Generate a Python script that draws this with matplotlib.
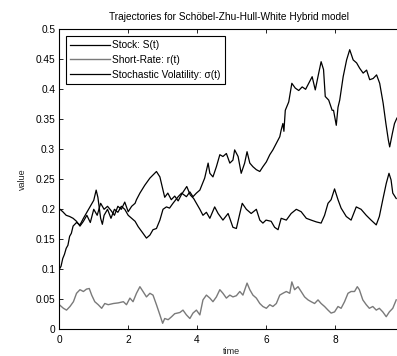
import matplotlib
matplotlib.use("Agg")
import matplotlib.pyplot as plt

plt.rcParams['font.family'] = ['Liberation Sans', 'DejaVu Sans']

# ---- data ----
t_stock = [0.0, 0.05, 0.1, 0.15, 0.2, 0.25, 0.3, 0.35, 0.4, 0.5, 0.6, 0.7, 0.8, 0.9, 1.0,
           1.07, 1.12, 1.2, 1.25, 1.3, 1.4, 1.5, 1.6, 1.7, 1.8, 1.9, 2.0, 2.1, 2.2,
           2.29, 2.43, 2.53, 2.63, 2.72, 2.82, 2.92, 3.01, 3.11, 3.2, 3.3, 3.45, 3.55,
           3.69, 3.79, 3.88, 3.98, 4.08, 4.22, 4.32, 4.37, 4.46, 4.56, 4.66, 4.75, 4.85,
           4.95, 5.04, 5.09, 5.19, 5.28, 5.38, 5.45, 5.53, 5.62, 5.72, 5.82, 5.91, 6.01,
           6.11, 6.2, 6.3, 6.4, 6.44, 6.49, 6.52, 6.56, 6.66, 6.75, 6.85, 6.95, 7.05,
           7.15, 7.24, 7.34, 7.43, 7.53, 7.6, 7.67, 7.72, 7.82, 7.92, 7.96, 8.04, 8.09,
           8.14, 8.24, 8.34, 8.43, 8.53, 8.63, 8.72, 8.82, 8.92, 9.01, 9.11, 9.21, 9.3,
           9.4, 9.48, 9.55, 9.59, 9.67, 9.73, 9.8]
stock = [0.100, 0.105, 0.118, 0.125, 0.135, 0.140, 0.155, 0.160, 0.172, 0.178, 0.174, 0.185,
         0.195, 0.205, 0.215, 0.232, 0.220, 0.185, 0.175, 0.190, 0.200, 0.185, 0.200, 0.195,
         0.205, 0.200, 0.190, 0.185, 0.180, 0.171, 0.160, 0.152, 0.157, 0.166, 0.168, 0.182,
         0.200, 0.204, 0.202, 0.210, 0.221, 0.227, 0.221, 0.229, 0.221, 0.227, 0.232, 0.252,
         0.277, 0.260, 0.254, 0.271, 0.291, 0.288, 0.293, 0.277, 0.282, 0.299, 0.288, 0.260,
         0.277, 0.296, 0.277, 0.271, 0.266, 0.263, 0.271, 0.279, 0.291, 0.299, 0.310, 0.321,
         0.332, 0.343, 0.330, 0.365, 0.379, 0.410, 0.402, 0.398, 0.404, 0.400, 0.410, 0.421,
         0.399, 0.427, 0.446, 0.433, 0.388, 0.382, 0.365, 0.365, 0.340, 0.370, 0.382, 0.421,
         0.449, 0.466, 0.449, 0.444, 0.435, 0.427, 0.432, 0.416, 0.418, 0.424, 0.410, 0.377,
         0.343, 0.316, 0.304, 0.327, 0.343, 0.352]

t_rate = [0.0, 0.12, 0.21, 0.31, 0.41, 0.5, 0.6, 0.7, 0.79, 0.87, 0.94, 1.03, 1.13, 1.23,
          1.32, 1.42, 1.57, 1.71, 1.86, 1.95, 2.05, 2.14, 2.24, 2.34, 2.43, 2.53, 2.63,
          2.72, 2.82, 2.92, 3.0, 3.06, 3.16, 3.26, 3.35, 3.5, 3.59, 3.69, 3.79, 3.88,
          3.98, 4.08, 4.17, 4.27, 4.37, 4.46, 4.56, 4.66, 4.75, 4.85, 4.95, 5.04, 5.14,
          5.24, 5.33, 5.45, 5.53, 5.62, 5.72, 5.82, 5.91, 6.01, 6.11, 6.2, 6.3, 6.4, 6.49,
          6.59, 6.69, 6.75, 6.83, 6.93, 7.02, 7.12, 7.22, 7.31, 7.41, 7.51, 7.6, 7.7, 7.8,
          7.89, 7.99, 8.09, 8.18, 8.28, 8.38, 8.47, 8.57, 8.65, 8.71, 8.81, 8.91, 9.0, 9.1,
          9.2, 9.29, 9.39, 9.49, 9.58, 9.68, 9.78]
rate = [0.041, 0.035, 0.032, 0.038, 0.046, 0.060, 0.066, 0.063, 0.067, 0.068, 0.057, 0.046,
        0.041, 0.035, 0.043, 0.041, 0.043, 0.044, 0.046, 0.041, 0.052, 0.046, 0.060, 0.071,
        0.063, 0.054, 0.060, 0.057, 0.041, 0.024, 0.010, 0.018, 0.016, 0.021, 0.026, 0.028,
        0.032, 0.024, 0.018, 0.027, 0.032, 0.024, 0.049, 0.057, 0.052, 0.046, 0.054, 0.066,
        0.060, 0.052, 0.057, 0.054, 0.056, 0.063, 0.057, 0.077, 0.066, 0.057, 0.052, 0.043,
        0.038, 0.035, 0.041, 0.038, 0.043, 0.057, 0.060, 0.063, 0.060, 0.079, 0.066, 0.071,
        0.063, 0.054, 0.049, 0.046, 0.043, 0.049, 0.043, 0.038, 0.032, 0.027, 0.029, 0.038,
        0.035, 0.046, 0.060, 0.063, 0.063, 0.071, 0.066, 0.049, 0.041, 0.035, 0.038, 0.032,
        0.035, 0.029, 0.021, 0.029, 0.035, 0.049]

t_vol = [0.0, 0.1, 0.2, 0.3, 0.4, 0.5, 0.6, 0.7, 0.8, 0.9, 1.0, 1.1, 1.2, 1.3, 1.4, 1.5,
         1.6, 1.7, 1.8, 1.9, 2.0, 2.1, 2.2, 2.24, 2.34, 2.48, 2.63, 2.82, 2.92, 3.01, 3.06,
         3.15, 3.25, 3.35, 3.45, 3.55, 3.7, 3.8, 3.9, 3.98, 4.08, 4.17, 4.27, 4.37, 4.51,
         4.61, 4.75, 4.9, 5.04, 5.14, 5.24, 5.31, 5.43, 5.57, 5.72, 5.82, 5.91, 6.0, 6.15,
         6.25, 6.35, 6.44, 6.59, 6.73, 6.88, 7.02, 7.17, 7.31, 7.46, 7.6, 7.7, 7.8, 7.89,
         7.99, 8.09, 8.18, 8.33, 8.47, 8.62, 8.76, 8.91, 9.05, 9.2, 9.29, 9.39, 9.49, 9.57,
         9.63, 9.68, 9.78]
vol = [0.201, 0.196, 0.190, 0.188, 0.185, 0.180, 0.172, 0.180, 0.190, 0.178, 0.200, 0.190,
       0.210, 0.200, 0.205, 0.198, 0.190, 0.205, 0.200, 0.212, 0.196, 0.205, 0.210, 0.216,
       0.227, 0.240, 0.252, 0.263, 0.254, 0.232, 0.220, 0.227, 0.216, 0.222, 0.214, 0.225,
       0.238, 0.224, 0.218, 0.210, 0.200, 0.190, 0.195, 0.185, 0.204, 0.193, 0.182, 0.193,
       0.170, 0.168, 0.193, 0.210, 0.200, 0.193, 0.200, 0.182, 0.177, 0.182, 0.180, 0.170,
       0.166, 0.185, 0.182, 0.193, 0.200, 0.196, 0.185, 0.182, 0.179, 0.177, 0.190, 0.210,
       0.216, 0.234, 0.216, 0.202, 0.188, 0.182, 0.204, 0.200, 0.190, 0.182, 0.174, 0.188,
       0.216, 0.243, 0.260, 0.249, 0.227, 0.218]

labels = ['Stock: S(t)', 'Short-Rate: r(t)', 'Stochastic Volatility: \u03c3(t)']
title = 'Trajectories for Sch\u00f6bel-Zhu-Hull-White Hybrid model'
xticks = [0, 2, 4, 6, 8, 10]
xtick_labels = ['0', '2', '4', '6', '8', '']
yticks = [0, 0.05, 0.1, 0.15, 0.2, 0.25, 0.3, 0.35, 0.4, 0.45, 0.5]
ytick_labels = ['0', '0.05', '0.1', '0.15', '0.2', '0.25', '0.3', '0.35', '0.4', '0.45', '0.5']

W, H = 397, 356
fig = plt.figure(figsize=(W / 100, H / 100), dpi=100)
ax = fig.add_axes([59.3 / W, (H - 329.3) / H, 344.5 / W, 300 / H])

ax.plot(t_stock, stock, color='black', lw=0.9, label=labels[0])
ax.plot(t_rate, rate, color='#7a7a7a', lw=1.0, label=labels[1])
ax.plot(t_vol, vol, color='black', lw=0.9, label=labels[2])

ax.set_xlim(0, 10)
ax.set_ylim(0, 0.5)
ax.set_xticks(xticks)
ax.set_xticklabels(xtick_labels)
ax.set_yticks(yticks)
ax.set_yticklabels(ytick_labels)
ax.tick_params(direction='in', length=3, width=0.6, labelsize=7.3,
               top=True, right=True, pad=3)
ax.tick_params(axis='x', pad=4)
for s in ax.spines.values():
    s.set_linewidth(0.8)

ax.set_xlabel('time', fontsize=6.5, color='#222222')
ax.set_ylabel('value', fontsize=6.5, color='#222222')
ax.xaxis.set_label_coords(0.5, -0.058)
ax.yaxis.set_label_coords(-0.094, 0.5)

fig.text(229 / W, 1 - 16.7 / H, title, ha='center', va='center', fontsize=7.3)

leg = ax.legend(loc='upper left', bbox_to_anchor=(0.0186, 0.978), borderaxespad=0,
                fontsize=7.3, frameon=True, fancybox=False, handlelength=3.9,
                handletextpad=0.2, labelspacing=0.45, borderpad=0.45)
leg.get_frame().set_edgecolor('black')
leg.get_frame().set_linewidth(0.8)
leg.get_frame().set_alpha(1)

fig.savefig('out.png', dpi=100)
